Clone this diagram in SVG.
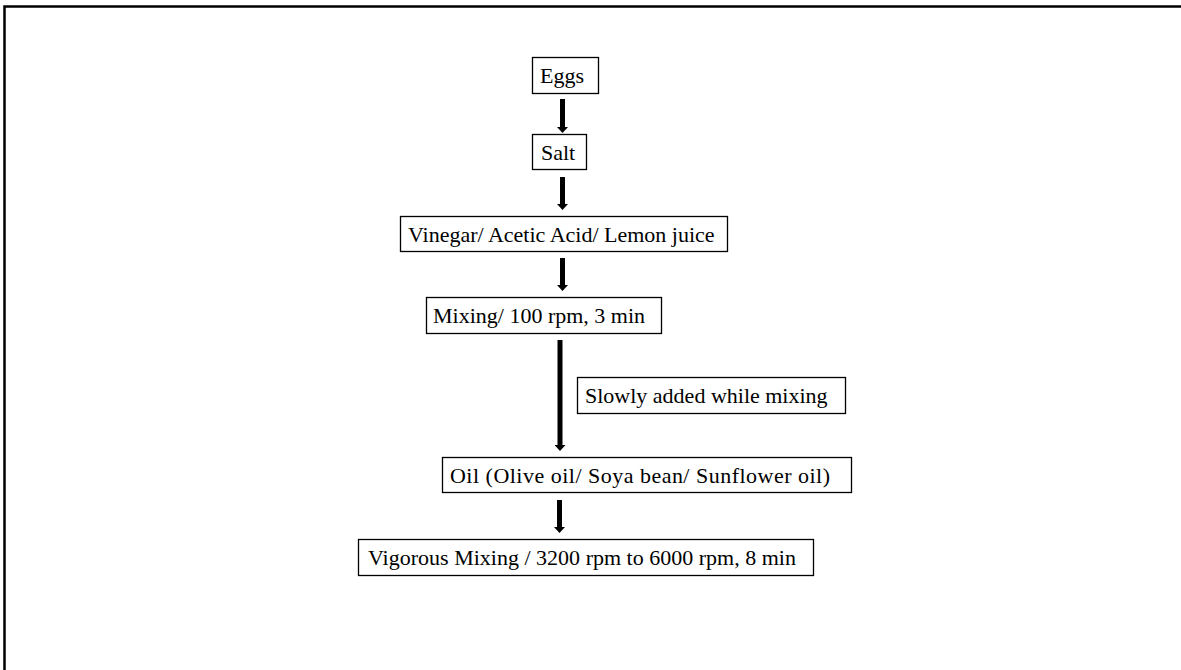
<svg xmlns="http://www.w3.org/2000/svg" width="1181" height="670" viewBox="0 0 1181 670">
<style>
.box{fill:#fff;stroke:#000;stroke-width:1.3}
.t{font-family:"Liberation Serif","Times New Roman",serif;font-size:22px;fill:#000}
.c{stroke:#000;stroke-width:5;fill:none}
</style>
<defs>
<marker id="ah" markerWidth="6" markerHeight="11" refX="0" refY="5.5" orient="auto" markerUnits="userSpaceOnUse">
<path d="M0,0 L6,5.5 L0,11 Z" fill="#000"/>
</marker>
</defs>
<rect width="1181" height="670" fill="#fff"/>
<path d="M4.5,676 V6.5 H1190" fill="none" stroke="#000" stroke-width="2.5"/>
<g id="connectors">
<line class="c" x1="562.5" y1="99" x2="562.5" y2="127" marker-end="url(#ah)"/>
<line class="c" x1="562.5" y1="177" x2="562.5" y2="204" marker-end="url(#ah)"/>
<line class="c" x1="562.5" y1="258" x2="562.5" y2="285" marker-end="url(#ah)"/>
<line class="c" x1="560" y1="340" x2="560" y2="445" marker-end="url(#ah)"/>
<line class="c" x1="559.5" y1="500" x2="559.5" y2="527" marker-end="url(#ah)"/>
</g>
<g id="eggs"><rect class="box" x="532.5" y="57.5" width="66" height="36"/><text class="t" x="540" y="83">Eggs</text></g>
<g id="salt"><rect class="box" x="532.5" y="134.5" width="54" height="35"/><text class="t" x="541" y="160">Salt</text></g>
<g id="vinegar"><rect class="box" x="400.5" y="216.5" width="327" height="35"/><text class="t" x="408" y="242">Vinegar/ Acetic Acid/ Lemon juice</text></g>
<g id="mixing"><rect class="box" x="426.5" y="297.5" width="235" height="36"/><text class="t" x="433" y="323">Mixing/ 100 rpm, 3 min</text></g>
<g id="slowly"><rect class="box" x="577.5" y="377.5" width="268" height="36"/><text class="t" x="585" y="403">Slowly added while mixing</text></g>
<g id="oil"><rect class="box" x="442.5" y="457.5" width="409" height="35"/><text class="t" x="450" y="483" textLength="380" lengthAdjust="spacing">Oil (Olive oil/ Soya bean/ Sunflower oil)</text></g>
<g id="vigorous"><rect class="box" x="358.5" y="539.5" width="455" height="36"/><text class="t" x="368" y="565" textLength="428" lengthAdjust="spacing">Vigorous Mixing / 3200 rpm to 6000 rpm, 8 min</text></g>
</svg>
